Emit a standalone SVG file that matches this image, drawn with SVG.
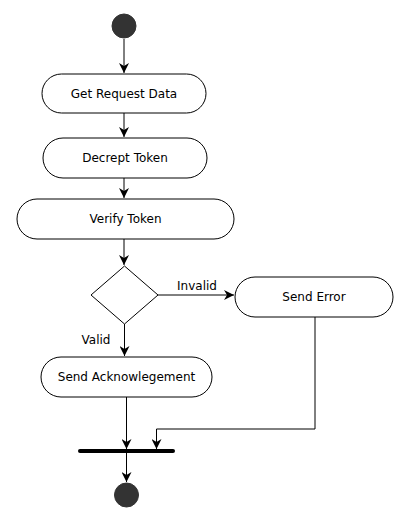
<svg xmlns="http://www.w3.org/2000/svg" width="409" height="523" viewBox="0 0 409 523">
<style>
.act{fill:#fff;stroke:#000;stroke-width:1}
.t{font-family:"DejaVu Sans",sans-serif;font-size:12px;fill:#000;text-anchor:middle}
.c{fill:none;stroke:#000;stroke-width:1}
.dot{fill:#333;stroke:#333}
</style>
<defs>
<marker id="arr" viewBox="0 0 10 10" refX="10" refY="5" markerWidth="10" markerHeight="10" markerUnits="userSpaceOnUse" orient="auto">
<path d="M0,0 L10,5 L0,10 L3,5 Z" fill="#000"/>
</marker>
</defs>
<g id="connectors">
<path class="c" d="M124,39 V73" marker-end="url(#arr)"/>
<path class="c" d="M124,113 V137" marker-end="url(#arr)"/>
<path class="c" d="M124,178 V198" marker-end="url(#arr)"/>
<path class="c" d="M124,239 V265" marker-end="url(#arr)"/>
<path class="c" d="M158,295 V295 H234" marker-end="url(#arr)"/>
<path class="c" d="M124.5,324 V356" marker-end="url(#arr)"/>
<path class="c" d="M126.5,397 V449" marker-end="url(#arr)"/>
<path class="c" d="M315,317 V429 H156.5 V449" marker-end="url(#arr)"/>
<path class="c" d="M126.5,453 V482" marker-end="url(#arr)"/>
<text class="t" x="197" y="290">Invalid</text>
<text class="t" x="96" y="344">Valid</text>
</g>
<g id="start"><circle class="dot" cx="124" cy="26" r="12"/></g>
<g id="get-request"><rect class="act" x="42" y="74" width="164" height="39" rx="19.5"/><text class="t" x="124" y="98">Get Request Data</text></g>
<g id="decrypt"><rect class="act" x="43" y="138" width="164" height="40" rx="20"/><text class="t" x="125" y="162">Decrept Token</text></g>
<g id="verify"><rect class="act" x="17" y="199" width="217" height="40" rx="20"/><text class="t" x="125.5" y="223">Verify Token</text></g>
<g id="decision"><polygon class="act" points="124.5,266 158,295 124.5,324 91,295"/></g>
<g id="send-error"><rect class="act" x="235" y="277" width="158" height="40" rx="20"/><text class="t" x="314" y="301">Send Error</text></g>
<g id="send-ack"><rect class="act" x="41" y="357" width="171" height="40" rx="20"/><text class="t" x="126.5" y="381">Send Acknowlegement</text></g>
<g id="join"><rect x="78" y="449" width="97" height="4" rx="2" fill="#000"/></g>
<g id="end"><circle class="dot" cx="126.5" cy="495" r="12"/></g>
</svg>
